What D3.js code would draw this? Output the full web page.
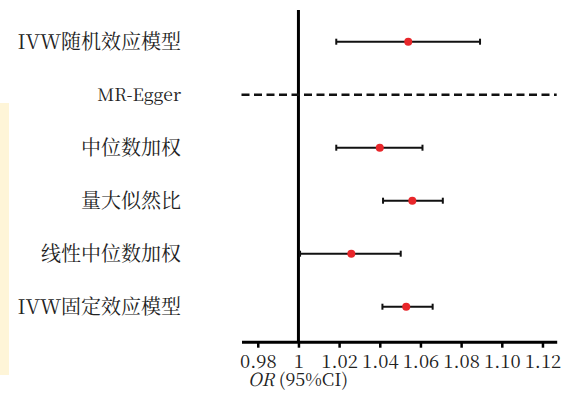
<!DOCTYPE html>
<meta charset="utf-8">
<style>
body { margin: 0; background: #fff; }
.axis path, .axis line { stroke: #000; }
</style>
<body>
<script src="https://d3js.org/d3.v7.min.js"></script>
<script>
// methods, top to bottom
var methods = ["IVW随机效应模型", "MR-Egger", "中位数加权", "量大似然比", "线性中位数加权", "IVW固定效应模型"];
// odds ratio and 95% CI (MR-Egger CI runs past both ends of the axis, no point shown)
var orValue = [1.054, null, 1.040, 1.056, 1.026, 1.053];
var ciLower = [1.0186, 0.90, 1.0186, 1.0416, 1.0008, 1.0413];
var ciUpper = [1.0893, 1.20, 1.061, 1.071, 1.0503, 1.066];
var tickValues = [0.98, 1, 1.02, 1.04, 1.06, 1.08, 1.10, 1.12];

var serifFont = "'Noto Serif CJK SC', 'DejaVu Serif', serif";

var width = 564, height = 400;

var svg = d3.select("body").append("svg")
  .attr("width", width)
  .attr("height", height);

// faint watermark strip on the left edge
svg.append("rect")
  .attr("x", 0).attr("y", 103)
  .attr("width", 9).attr("height", 272)
  .attr("fill", "#fef5d8");

var x = d3.scaleLinear()
  .domain([0.972, 1.127])
  .range([241.5, 556.7]);

var y = d3.scalePoint()
  .domain(methods)
  .range([41.7, 306.7]);

var axisY = 341.7;

var rows = methods.map(function(m, i) {
  return {name: m, or: orValue[i], lo: ciLower[i], hi: ciUpper[i]};
});

// x axis
var gx = svg.append("g")
  .attr("class", "axis")
  .attr("transform", "translate(0," + axisY + ")")
  .call(d3.axisBottom(x)
    .tickValues(tickValues)
    .tickSizeOuter(0)
    .tickSizeInner(6)
    .tickPadding(7)
    .tickFormat(function(d) { return d === 1 ? "1" : d3.format(".2f")(d); }));

gx.select(".domain").attr("stroke-width", 3);
gx.selectAll(".tick line").attr("stroke-width", 2.5);
gx.selectAll(".tick text")
  .style("font-family", serifFont)
  .style("font-size", "18.5px")
  .style("fill", "#222");

svg.append("text")
  .attr("x", 248)
  .attr("y", 386)
  .style("font-family", serifFont)
  .style("font-size", "18px")
  .style("fill", "#222")
  .html('<tspan font-style="italic">OR</tspan> (95%CI)');

// reference line at OR = 1
svg.append("line")
  .attr("x1", x(1)).attr("x2", x(1))
  .attr("y1", 10).attr("y2", axisY)
  .attr("stroke", "#000")
  .attr("stroke-width", 3);

// row labels
svg.selectAll(".label")
  .data(rows)
  .enter().append("text")
  .attr("class", "label")
  .attr("x", 181)
  .attr("y", function(d) { return y(d.name); })
  .attr("dy", "0.35em")
  .attr("text-anchor", "end")
  .style("font-family", serifFont)
  .style("font-size", function(d) { return /^[\x00-\x7f]+$/.test(d.name) ? "17.5px" : "20px"; })
  .style("fill", "#222")
  .text(function(d) { return d.name; });

var xmin = x.domain()[0], xmax = x.domain()[1];
function clamp(v) { return Math.max(xmin, Math.min(xmax, v)); }

// CI lines
svg.selectAll(".ci")
  .data(rows)
  .enter().append("line")
  .attr("class", "ci")
  .attr("x1", function(d) { return x(clamp(d.lo)); })
  .attr("x2", function(d) { return x(clamp(d.hi)); })
  .attr("y1", function(d) { return y(d.name); })
  .attr("y2", function(d) { return y(d.name); })
  .attr("stroke", "#111")
  .attr("stroke-width", function(d) { return d.or === null ? 2.5 : 2; })
  .attr("stroke-dasharray", function(d) { return d.or === null ? "8,4.5" : null; });

// caps only where the CI ends inside the axis
var caps = rows.filter(function(d) { return d.or !== null; });
caps.forEach(function(d) {
  [d.lo, d.hi].forEach(function(v) {
    svg.append("line")
      .attr("x1", x(v)).attr("x2", x(v))
      .attr("y1", y(d.name) - 3).attr("y2", y(d.name) + 3)
      .attr("stroke", "#111")
      .attr("stroke-width", 2);
  });
});

// point estimates
svg.selectAll(".pt")
  .data(caps)
  .enter().append("circle")
  .attr("class", "pt")
  .attr("cx", function(d) { return x(d.or); })
  .attr("cy", function(d) { return y(d.name); })
  .attr("r", 4)
  .attr("fill", "#e8262a");
</script>
